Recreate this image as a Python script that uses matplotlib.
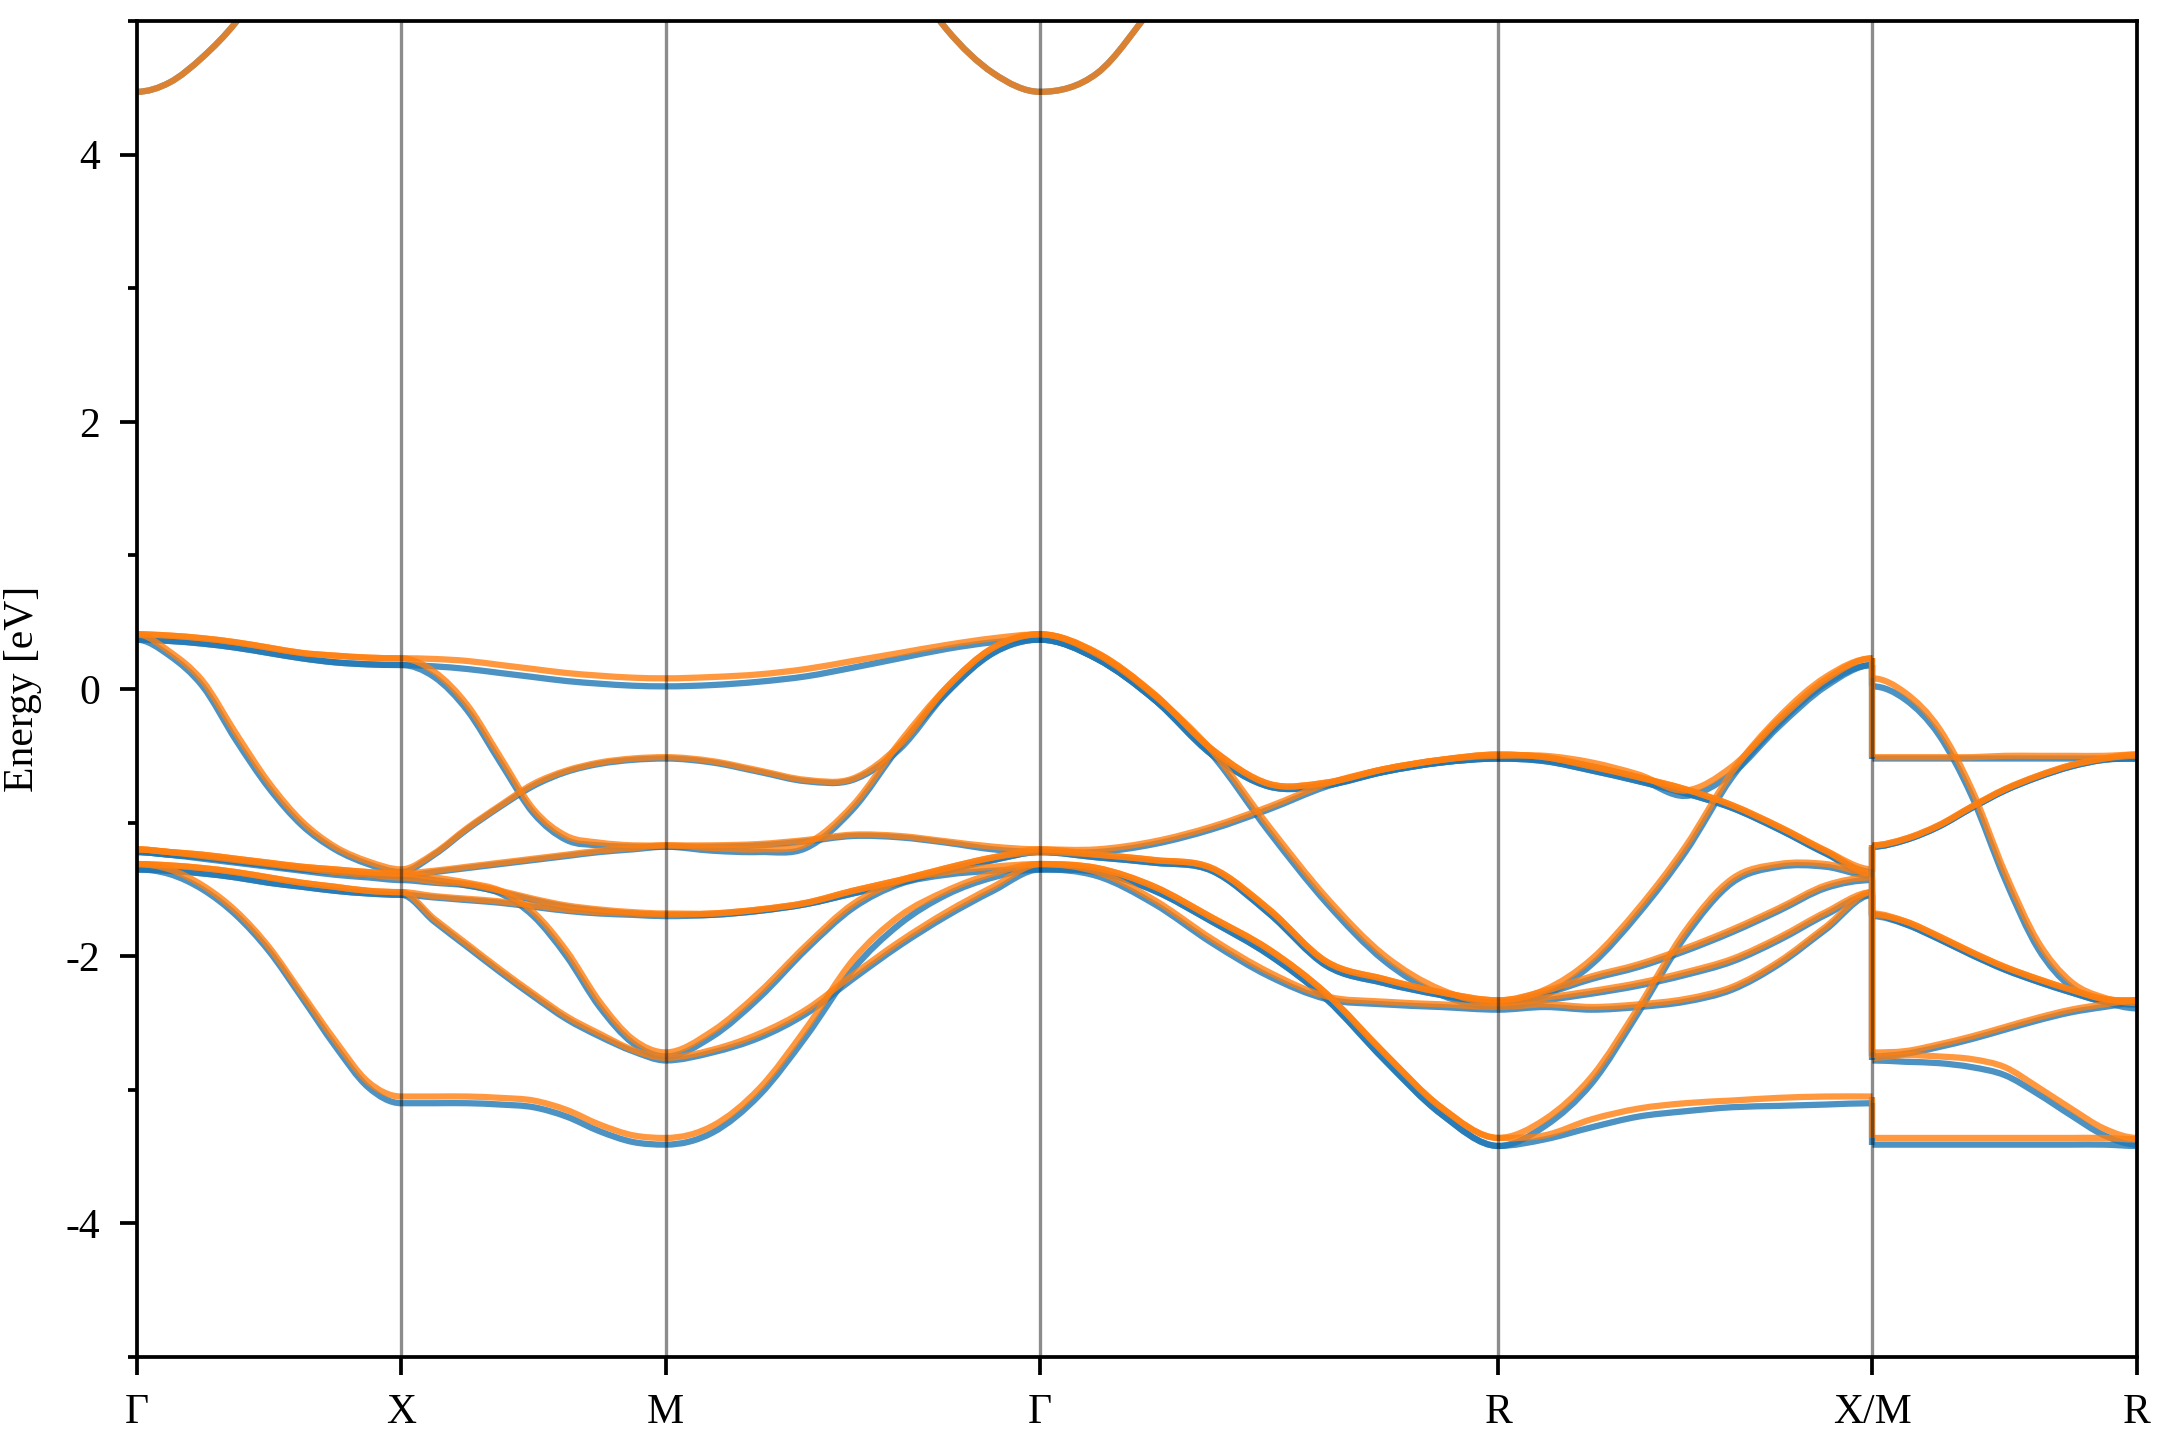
import numpy as np
import matplotlib
matplotlib.use("Agg")
import matplotlib.pyplot as plt
from matplotlib.ticker import MultipleLocator
from matplotlib.path import Path
from matplotlib.patches import PathPatch

plt.rcParams['font.family'] = ['Liberation Serif', 'DejaVu Serif']
plt.rcParams['axes.unicode_minus'] = False

# ---------------- data ----------------
kpoint_labels = ["Γ", "X", "M", "Γ", "R", "X/M", "R"]
segment_lengths = [0.5, 0.5, 0.7071, 0.8660, 0.7071, 0.5]   # Γ-X, X-M, M-Γ, Γ-R, R-X, M-R
t_samples = [0.0, 0.125, 0.25, 0.375, 0.5, 0.625, 0.75, 0.875, 1.0]

# spin channel 1 (blue): one row per band line, values at t_samples along the segment
up_GX = [
    [0.37, 0.36, 0.34, 0.31, 0.27, 0.23, 0.20, 0.185, 0.18],
    [0.37, 0.36, 0.34, 0.31, 0.27, 0.23, 0.20, 0.185, 0.18],
    [0.37, 0.25, 0.02, -0.38, -0.74, -1.02, -1.20, -1.31, -1.37],
    [-1.22, -1.24, -1.26, -1.29, -1.32, -1.35, -1.37, -1.39, -1.40],
    [-1.22, -1.24, -1.26, -1.29, -1.32, -1.35, -1.37, -1.39, -1.40],
    [-1.22, -1.24, -1.27, -1.30, -1.33, -1.36, -1.39, -1.41, -1.43],
    [-1.35, -1.36, -1.38, -1.41, -1.45, -1.48, -1.51, -1.53, -1.54],
    [-1.35, -1.36, -1.38, -1.41, -1.45, -1.48, -1.51, -1.53, -1.54],
    [-1.35, -1.385, -1.50, -1.69, -1.96, -2.31, -2.67, -2.98, -3.10],
]
up_XM = [
    [0.18, 0.17, 0.15, 0.12, 0.09, 0.06, 0.04, 0.025, 0.02],
    [0.18, 0.09, -0.16, -0.55, -0.93, -1.13, -1.17, -1.18, -1.18],
    [-1.37, -1.24, -1.05, -0.88, -0.725, -0.62, -0.56, -0.53, -0.52],
    [-1.40, -1.37, -1.34, -1.31, -1.28, -1.25, -1.22, -1.20, -1.18],
    [-1.40, -1.43, -1.47, -1.53, -1.70, -2.00, -2.38, -2.65, -2.75],
    [-1.43, -1.45, -1.47, -1.52, -1.58, -1.63, -1.66, -1.68, -1.69],
    [-1.54, -1.56, -1.58, -1.60, -1.63, -1.66, -1.68, -1.69, -1.70],
    [-1.54, -1.74, -1.93, -2.12, -2.30, -2.47, -2.60, -2.71, -2.78],
    [-3.10, -3.10, -3.10, -3.11, -3.13, -3.20, -3.31, -3.39, -3.41],
]
up_MG = [
    [0.02, 0.03, 0.055, 0.095, 0.16, 0.23, 0.30, 0.35, 0.37],
    [-0.52, -0.55, -0.62, -0.69, -0.68, -0.45, -0.03, 0.27, 0.37],
    [-1.18, -1.21, -1.22, -1.19, -0.90, -0.43, -0.03, 0.27, 0.37],
    [-1.18, -1.18, -1.17, -1.14, -1.10, -1.11, -1.15, -1.20, -1.22],
    [-1.69, -1.69, -1.66, -1.61, -1.53, -1.45, -1.36, -1.28, -1.22],
    [-1.70, -1.69, -1.66, -1.61, -1.53, -1.45, -1.36, -1.28, -1.22],
    [-2.75, -2.60, -2.31, -1.95, -1.64, -1.46, -1.39, -1.36, -1.35],
    [-2.78, -2.72, -2.61, -2.43, -2.17, -1.92, -1.70, -1.51, -1.35],
    [-3.41, -3.32, -3.04, -2.60, -2.10, -1.76, -1.54, -1.41, -1.35],
]
up_GR = [
    [0.37, 0.225, -0.08, -0.49, -0.73, -0.72, -0.62, -0.55, -0.52],
    [0.37, 0.225, -0.08, -0.49, -0.73, -0.72, -0.62, -0.55, -0.52],
    [0.37, 0.225, -0.08, -0.49, -1.07, -1.60, -2.03, -2.29, -2.38],
    [-1.22, -1.22, -1.16, -1.05, -0.90, -0.73, -0.62, -0.55, -0.52],
    [-1.22, -1.26, -1.30, -1.36, -1.68, -2.07, -2.20, -2.29, -2.35],
    [-1.22, -1.26, -1.30, -1.36, -1.68, -2.07, -2.20, -2.29, -2.35],
    [-1.35, -1.40, -1.61, -1.90, -2.15, -2.32, -2.36, -2.38, -2.40],
    [-1.35, -1.37, -1.51, -1.74, -1.99, -2.32, -2.77, -3.18, -3.42],
    [-1.35, -1.37, -1.51, -1.74, -1.99, -2.32, -2.77, -3.18, -3.42],
]
up_RX = [
    [-0.52, -0.54, -0.61, -0.69, -0.78, -0.89, -1.05, -1.23, -1.37],
    [-0.52, -0.54, -0.61, -0.69, -0.78, -0.89, -1.05, -1.23, -1.40],
    [-0.52, -0.53, -0.58, -0.67, -0.80, -0.63, -0.28, 0.02, 0.18],
    [-2.35, -2.29, -2.06, -1.68, -1.22, -0.66, -0.26, 0.04, 0.18],
    [-2.35, -2.28, -2.17, -2.08, -1.96, -1.82, -1.66, -1.49, -1.43],
    [-2.38, -2.33, -2.28, -2.22, -2.14, -2.04, -1.88, -1.69, -1.54],
    [-2.40, -2.38, -2.40, -2.38, -2.34, -2.25, -2.06, -1.80, -1.54],
    [-3.42, -3.27, -2.95, -2.42, -1.85, -1.45, -1.33, -1.33, -1.40],
    [-3.42, -3.37, -3.28, -3.20, -3.16, -3.13, -3.12, -3.11, -3.10],
]
up_MR = [
    [0.02, -0.08, -0.34, -0.80, -1.42, -1.94, -2.23, -2.34, -2.39],
    [-0.52, -0.52, -0.52, -0.52, -0.52, -0.52, -0.52, -0.52, -0.52],
    [-1.18, -1.13, -1.03, -0.89, -0.76, -0.66, -0.58, -0.53, -0.52],
    [-1.18, -1.13, -1.03, -0.89, -0.76, -0.66, -0.58, -0.53, -0.52],
    [-1.69, -1.76, -1.87, -1.99, -2.10, -2.19, -2.27, -2.34, -2.36],
    [-1.70, -1.76, -1.87, -1.99, -2.10, -2.19, -2.27, -2.34, -2.36],
    [-2.75, -2.73, -2.68, -2.62, -2.55, -2.48, -2.42, -2.38, -2.35],
    [-2.78, -2.79, -2.80, -2.83, -2.89, -3.03, -3.19, -3.34, -3.41],
    [-3.41, -3.41, -3.41, -3.41, -3.41, -3.41, -3.41, -3.41, -3.42],
]

# spin channel 2 (orange)
dn_GX = [
    [0.41, 0.40, 0.38, 0.35, 0.31, 0.27, 0.25, 0.235, 0.23],
    [0.41, 0.40, 0.38, 0.35, 0.31, 0.27, 0.25, 0.235, 0.23],
    [0.41, 0.28, 0.06, -0.33, -0.70, -0.99, -1.18, -1.29, -1.35],
    [-1.20, -1.22, -1.24, -1.27, -1.30, -1.33, -1.35, -1.37, -1.38],
    [-1.20, -1.22, -1.24, -1.27, -1.30, -1.33, -1.35, -1.37, -1.38],
    [-1.20, -1.22, -1.25, -1.28, -1.31, -1.34, -1.37, -1.39, -1.41],
    [-1.31, -1.32, -1.34, -1.37, -1.41, -1.45, -1.48, -1.51, -1.52],
    [-1.31, -1.32, -1.34, -1.37, -1.41, -1.45, -1.48, -1.51, -1.52],
    [-1.31, -1.35, -1.47, -1.66, -1.93, -2.28, -2.63, -2.94, -3.05],
]
dn_XM = [
    [0.23, 0.225, 0.21, 0.18, 0.15, 0.12, 0.10, 0.085, 0.08],
    [0.23, 0.13, -0.12, -0.51, -0.90, -1.10, -1.15, -1.17, -1.17],
    [-1.35, -1.23, -1.04, -0.87, -0.71, -0.61, -0.55, -0.52, -0.51],
    [-1.38, -1.36, -1.33, -1.30, -1.27, -1.24, -1.21, -1.19, -1.17],
    [-1.38, -1.41, -1.45, -1.51, -1.67, -1.96, -2.34, -2.62, -2.72],
    [-1.41, -1.44, -1.46, -1.51, -1.57, -1.62, -1.65, -1.67, -1.68],
    [-1.52, -1.55, -1.57, -1.59, -1.62, -1.65, -1.67, -1.68, -1.69],
    [-1.52, -1.72, -1.91, -2.10, -2.28, -2.45, -2.58, -2.70, -2.76],
    [-3.05, -3.05, -3.05, -3.06, -3.08, -3.15, -3.26, -3.34, -3.36],
]
dn_MG = [
    [0.08, 0.09, 0.11, 0.15, 0.21, 0.27, 0.33, 0.38, 0.41],
    [-0.51, -0.54, -0.61, -0.68, -0.67, -0.42, 0.01, 0.31, 0.41],
    [-1.17, -1.19, -1.20, -1.16, -0.87, -0.40, 0.01, 0.31, 0.41],
    [-1.17, -1.17, -1.16, -1.13, -1.09, -1.10, -1.14, -1.18, -1.20],
    [-1.68, -1.68, -1.65, -1.60, -1.51, -1.43, -1.34, -1.26, -1.20],
    [-1.69, -1.68, -1.65, -1.60, -1.51, -1.43, -1.34, -1.26, -1.22],
    [-2.72, -2.56, -2.27, -1.92, -1.61, -1.44, -1.37, -1.33, -1.31],
    [-2.76, -2.70, -2.58, -2.40, -2.14, -1.89, -1.67, -1.48, -1.31],
    [-3.36, -3.27, -2.99, -2.54, -2.03, -1.70, -1.51, -1.38, -1.31],
]
dn_GR = [
    [0.41, 0.27, -0.04, -0.45, -0.71, -0.70, -0.60, -0.53, -0.49],
    [0.41, 0.27, -0.04, -0.45, -0.71, -0.70, -0.60, -0.53, -0.49],
    [0.41, 0.26, -0.05, -0.46, -1.03, -1.56, -1.99, -2.25, -2.35],
    [-1.20, -1.20, -1.14, -1.03, -0.88, -0.71, -0.60, -0.53, -0.50],
    [-1.20, -1.24, -1.28, -1.34, -1.65, -2.04, -2.17, -2.27, -2.33],
    [-1.22, -1.24, -1.28, -1.34, -1.65, -2.04, -2.17, -2.27, -2.33],
    [-1.31, -1.37, -1.58, -1.87, -2.12, -2.30, -2.34, -2.36, -2.38],
    [-1.31, -1.34, -1.48, -1.71, -1.95, -2.28, -2.72, -3.13, -3.36],
    [-1.31, -1.34, -1.48, -1.71, -1.95, -2.28, -2.72, -3.13, -3.36],
]
dn_RX = [
    [-0.49, -0.51, -0.58, -0.66, -0.75, -0.87, -1.03, -1.21, -1.35],
    [-0.49, -0.51, -0.58, -0.66, -0.75, -0.87, -1.03, -1.21, -1.38],
    [-0.50, -0.50, -0.55, -0.64, -0.76, -0.58, -0.23, 0.07, 0.23],
    [-2.33, -2.25, -2.02, -1.64, -1.18, -0.62, -0.21, 0.09, 0.23],
    [-2.33, -2.26, -2.15, -2.06, -1.94, -1.80, -1.64, -1.47, -1.41],
    [-2.35, -2.31, -2.26, -2.20, -2.12, -2.02, -1.86, -1.67, -1.52],
    [-2.38, -2.36, -2.38, -2.36, -2.32, -2.23, -2.04, -1.78, -1.52],
    [-3.36, -3.22, -2.90, -2.38, -1.81, -1.42, -1.31, -1.31, -1.38],
    [-3.36, -3.34, -3.22, -3.14, -3.10, -3.08, -3.06, -3.05, -3.05],
]
dn_MR = [
    [0.08, -0.03, -0.29, -0.75, -1.37, -1.89, -2.19, -2.31, -2.35],
    [-0.51, -0.51, -0.51, -0.51, -0.50, -0.50, -0.50, -0.50, -0.49],
    [-1.17, -1.12, -1.02, -0.88, -0.75, -0.65, -0.57, -0.52, -0.49],
    [-1.17, -1.12, -1.02, -0.88, -0.75, -0.65, -0.57, -0.52, -0.50],
    [-1.68, -1.74, -1.85, -1.97, -2.08, -2.17, -2.25, -2.32, -2.33],
    [-1.69, -1.74, -1.85, -1.97, -2.08, -2.17, -2.25, -2.32, -2.33],
    [-2.72, -2.71, -2.66, -2.60, -2.53, -2.46, -2.40, -2.36, -2.33],
    [-2.76, -2.74, -2.75, -2.77, -2.83, -2.98, -3.14, -3.29, -3.36],
    [-3.36, -3.36, -3.36, -3.36, -3.36, -3.36, -3.36, -3.36, -3.37],
]

# lowest conduction band (both channels coincide); nan = outside the window
nan = float('nan')
cond_GX = [4.47, 4.54, 4.73, 4.99, 5.35, nan, nan, nan, nan]
cond_MG = [nan, nan, nan, nan, nan, 5.45, 4.94, 4.61, 4.47]
cond_GR = [4.47, 4.61, 5.12, nan, nan, nan, nan, nan, nan]

# ---------------- helpers ----------------
t = np.array(t_samples)
starts = np.concatenate([[0.0], np.cumsum(segment_lengths)[:-1]])
tick_pos = np.concatenate([[0.0], np.cumsum(segment_lengths)])


def smooth_path(xs, ys, flat_start=True, flat_end=True):
    P = np.column_stack([xs, ys])
    n = len(P)
    M = np.zeros_like(P)
    for i in range(n):
        if 0 < i < n - 1:
            M[i] = (P[i + 1] - P[i - 1]) / 2.0
        elif i == 0:
            M[i] = P[1] - P[0]
            if flat_start:
                M[i, 1] = 0.0
        else:
            M[i] = P[-1] - P[-2]
            if flat_end:
                M[i, 1] = 0.0
    verts = [P[0]]
    codes = [Path.MOVETO]
    for i in range(n - 1):
        verts += [P[i] + M[i] / 3.0, P[i + 1] - M[i + 1] / 3.0, P[i + 1]]
        codes += [Path.CURVE4] * 3
    return Path(verts, codes)


def draw_line(ax, xs, ys, color, **kw):
    ax.add_patch(PathPatch(smooth_path(xs, ys, **kw), fill=False, edgecolor=color,
                           lw=1.5, alpha=0.8, capstyle='butt', joinstyle='round'))


# ---------------- plot ----------------
fig = plt.figure(figsize=(7.2, 4.8), dpi=300)
ax = fig.add_axes([0.0632, 0.0576, 0.9262, 0.9278])

spins = [
    ('#1f77b4', [up_GX, up_XM, up_MG, up_GR, up_RX, up_MR]),
    ('#ff7f0e', [dn_GX, dn_XM, dn_MG, dn_GR, dn_RX, dn_MR]),
]
cond_segments = [(0, cond_GX), (2, cond_MG), (3, cond_GR)]

for color, segs in spins:
    for s, seg in enumerate(segs):
        xs = starts[s] + t * segment_lengths[s]
        for line in seg:
            draw_line(ax, xs, np.array(line), color)
    # jump at the X|M discontinuity: band n at X joins band n at M
    x_end = np.sort(np.array(segs[4])[:, -1])[::-1]
    m_start = np.sort(np.array(segs[5])[:, 0])[::-1]
    for e0, e1 in zip(x_end, m_start):
        ax.plot([tick_pos[5], tick_pos[5]], [e0, e1], color=color, lw=1.5,
                alpha=0.8, solid_capstyle='butt')
    # conduction band
    for s, vals in cond_segments:
        vals = np.array(vals)
        ok = np.isfinite(vals)
        xs = (starts[s] + t * segment_lengths[s])[ok]
        ys = vals[ok]
        at_start = ok[0]
        draw_line(ax, xs, ys, color, flat_start=at_start, flat_end=ok[-1])

for xp in tick_pos[1:-1]:
    ax.axvline(xp, color='k', lw=0.8, alpha=0.45, zorder=3)

ax.set_xlim(tick_pos[0], tick_pos[-1])
ax.set_ylim(-5, 5)
ax.set_xticks(tick_pos)
ax.set_xticklabels(kpoint_labels)
ax.set_yticks([-4, -2, 0, 2, 4])
ax.yaxis.set_minor_locator(MultipleLocator(1))
ax.tick_params(axis='both', which='major', direction='out', length=4.2, width=0.9,
               labelsize=10, pad=4.5)
ax.tick_params(axis='y', which='minor', direction='out', length=2.2, width=0.9)
for sp in ax.spines.values():
    sp.set_linewidth(0.9)
ax.set_ylabel('Energy [eV]', fontsize=10)
ax.yaxis.set_label_coords(-0.047, 0.5)

fig.savefig('out.png', dpi=300)
